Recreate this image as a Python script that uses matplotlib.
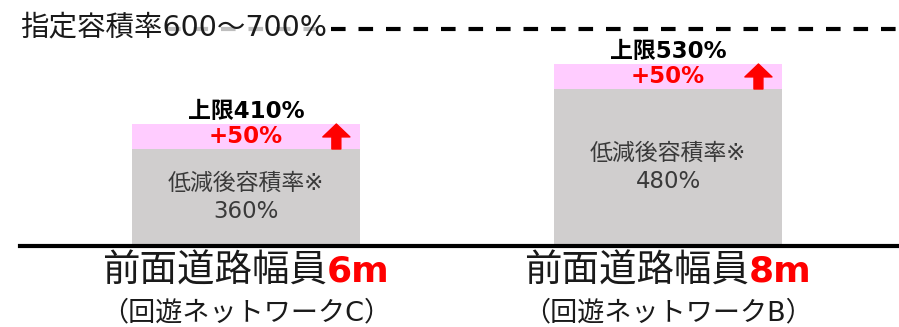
import matplotlib.pyplot as plt
from matplotlib.patches import ArrowStyle

# 英数字は DejaVu Sans（Verdana 系）、和文は Noto Sans CJK JP
plt.rcParams['font.family'] = ['DejaVu Sans', 'Noto Sans CJK JP']

# データ
roads = ['6m', '8m']                                   # 前面道路幅員
networks = ['（回遊ネットワークC）', '（回遊ネットワークB）']
base_rate = [360, 480]                                 # 低減後容積率
bonus = [50, 50]                                       # 上乗せ分
designated = [600, 700]                                # 指定容積率

x = [0, 1]
ymin, ymax = 166, 658   # 軸は途中から表示（模式図）

fig = plt.figure(figsize=(8.99, 3.27), dpi=100)
ax = fig.add_axes([20/899, 81/327, 879/899, 246/327])
ax.set_xlim(-0.5355, 1.547)
ax.set_ylim(ymin, ymax)

ax.bar(x, base_rate, width=0.54, color='#d0cece', zorder=2)
ax.bar(x, bonus, bottom=base_rate, width=0.54, color='#ffccff', zorder=2)

# 指定容積率の破線
ax.hlines(designated[0], -0.19, 1.547, colors='black', lw=3,
          linestyles=(0, (3.5, 3.1)), zorder=1)
ax.annotate(f'指定容積率{designated[0]}～{designated[1]}%', xy=(-0.5355, designated[0]),
            xytext=(0, 2), textcoords='offset pixels',
            ha='left', va='center', fontsize=20.5, color='#1a1a1a', zorder=3,
            bbox=dict(facecolor='white', edgecolor='none', alpha=0.75, pad=0))

for xi, b, p in zip(x, base_rate, bonus):
    ax.annotate(f'上限{b + p}%', xy=(xi, b + p), xytext=(0, 1),
                textcoords='offset points', ha='center', va='bottom',
                fontsize=16.5, fontweight='bold', color='black')
    ax.text(xi, b + p / 2, f'+{p}%', ha='center', va='center',
            fontsize=16.5, fontweight='bold', color='#ff0000', zorder=3)
    ax.text(xi, (ymin + b) / 2, f'低減後容積率※\n{b}%', ha='center',
            va='center', fontsize=16.5, linespacing=1.25, color='#3a3a3a',
            zorder=3)
    ax.annotate('', xy=(xi + 0.214, b + p), xytext=(xi + 0.214, b),
                arrowprops=dict(arrowstyle=ArrowStyle.Simple(head_length=0.62,
                                                             head_width=1.3,
                                                             tail_width=0.43),
                                mutation_scale=15, color='#ff0000',
                                shrinkA=0, shrinkB=0),
                zorder=4)

for s in ['top', 'left', 'right']:
    ax.spines[s].set_visible(False)
ax.spines['bottom'].set_linewidth(3)
ax.spines['bottom'].set_color('black')
ax.set_xticks([])
ax.set_yticks([])

# 下のラベル（黒＋赤の組み合わせ）
fig.canvas.draw()
r = fig.canvas.get_renderer()
for xi, road, net in zip(x, roads, networks):
    t1 = ax.annotate('前面道路幅員', xy=(xi, 0), xycoords=('data', 'axes fraction'),
                     xytext=(0, -26), textcoords='offset pixels', ha='right',
                     va='center', fontsize=27, color='#1a1a1a')
    t2 = ax.annotate(road, xy=(xi, 0), xycoords=('data', 'axes fraction'),
                     xytext=(0, -26), textcoords='offset pixels', ha='left',
                     va='center', fontsize=26, fontweight='bold', color='#ff0000')
    w1 = t1.get_window_extent(r).width
    w2 = t2.get_window_extent(r).width
    shift = (w1 - w2) / 2
    t1.xyann = (shift, -26)
    t2.xyann = (shift, -26)
    ax.annotate(net, xy=(xi, 0), xycoords=('data', 'axes fraction'),
                xytext=(0, -67), textcoords='offset pixels', ha='center',
                va='center', fontsize=19.5, color='#1a1a1a')

fig.savefig('out.png', dpi=100)
